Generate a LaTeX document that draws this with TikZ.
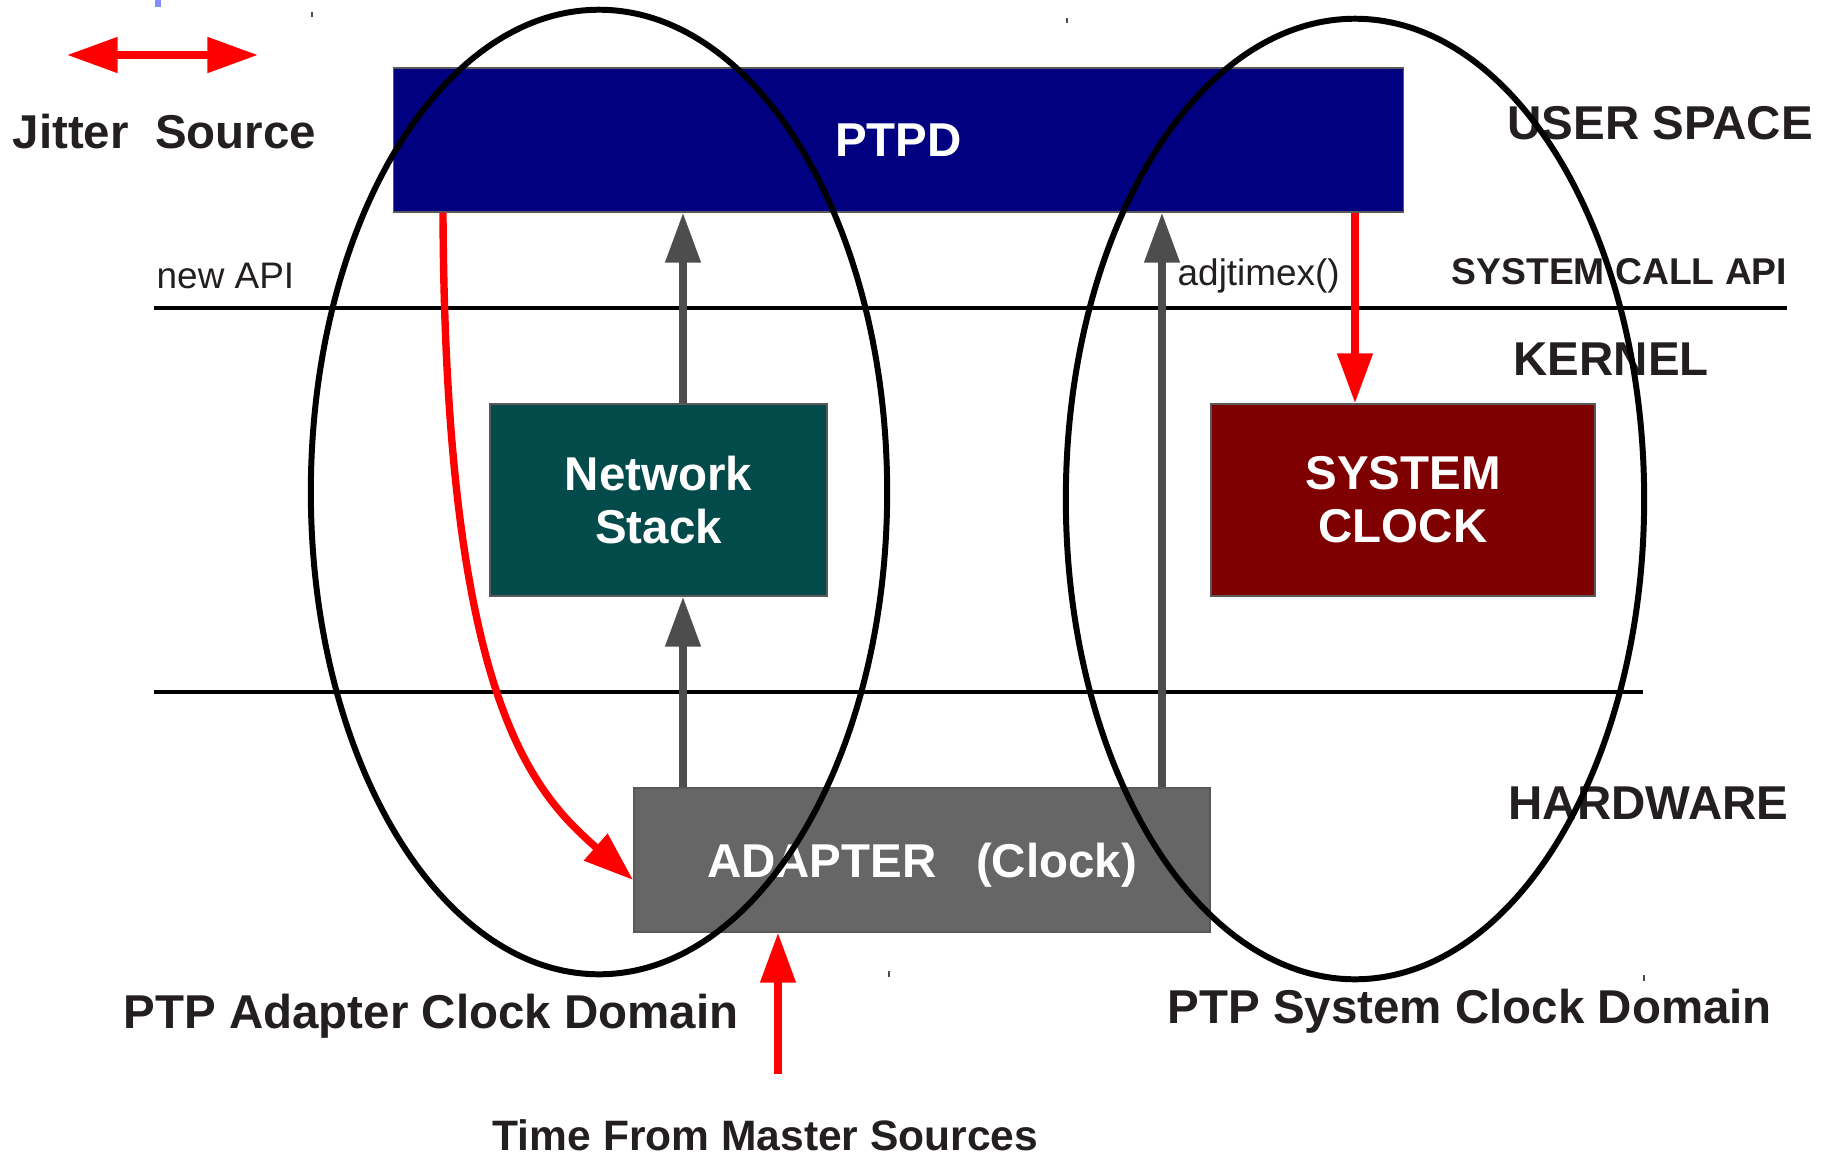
\documentclass[tikz,border=0pt]{standalone}
\usepackage{fontspec}
\setmainfont{Liberation Sans}
\usetikzlibrary{arrows.meta,calc}

\definecolor{ptpdblue}{HTML}{000080}
\definecolor{netteal}{HTML}{034B4B}
\definecolor{clockred}{HTML}{7F0000}
\definecolor{adaptergray}{HTML}{666666}
\definecolor{flowgray}{HTML}{4D4D4D}
\definecolor{ink}{HTML}{231F20}
\definecolor{markblue}{HTML}{8090FF}

\begin{document}
\begin{tikzpicture}[x=0.01cm,y=-0.01cm,
  box/.style={draw=black!65, line width=0.4pt, inner sep=0pt, text=white,
    font=\bfseries\fontsize{13.5}{15.1}\selectfont, align=center},
  biglbl/.style={inner sep=0pt, anchor=base west, text=ink,
    font=\bfseries\fontsize{13.5}{16}\selectfont},
  smalllbl/.style={inner sep=0pt, anchor=base west, text=ink,
    font=\fontsize{10.5}{12}\selectfont},
  flow/.style={draw=flowgray, line width=2.1pt,
    -{Triangle[length=14.2pt,width=9.7pt]}},
  jitterflow/.style={draw=red, line width=2.1pt,
    -{Triangle[length=14.2pt,width=9.7pt]}},
  jitterboth/.style={draw=red, line width=2.2pt,
    {Triangle[length=14.4pt,width=9.7pt]}-{Triangle[length=14.4pt,width=9.7pt]}},
  domainring/.style={draw=black, line width=1.7pt},
  layerline/.style={draw=black, line width=1.15pt},
  cornermark/.style={draw=black!70, line width=0.4pt},
]
\useasboundingbox (0,0) rectangle (1835,1160);

% small corner marks
\draw[draw=markblue, line width=1.5pt] (158,0) -- (158,7);
\draw[cornermark] (312,12) -- (312,17);
\draw[cornermark] (1067,18) -- (1067,23);
\draw[cornermark] (889,971) -- (889,977);
\draw[cornermark] (1644,975) -- (1644,981);

% layer separators
\coordinate (apiL) at (154,308);   \coordinate (apiR) at (1787,308);
\coordinate (hwL)  at (154,692);   \coordinate (hwR)  at (1643,692);
\draw[layerline] (apiL) -- (apiR);
\draw[layerline] (hwL) -- (hwR);

% blocks
\node[box, fill=ptpdblue, minimum width=10.09cm, minimum height=1.44cm]
  (ptpd) at (898.5,140) {PTPD};
\node[box, fill=netteal, minimum width=3.37cm, minimum height=1.92cm]
  (net) at (658.5,500) {Network\\Stack};
\node[box, fill=clockred, minimum width=3.84cm, minimum height=1.92cm]
  (sysclk) at (1403,500) {SYSTEM\\CLOCK};
\node[box, fill=adaptergray, minimum width=5.76cm, minimum height=1.44cm, text depth=0pt]
  (adapter) at (922,860) {ADAPTER\hspace{0.834em}(Clock)};

% arrow columns
\coordinate (colNet) at (683,0);
\coordinate (colAdj) at (1162,0);
\coordinate (colSys) at (1355,0);
\coordinate (colCurve) at (443,0);
\coordinate (master) at (778,1074);

% timestamp paths
\draw[flow] (adapter.north -| colNet) -- (net.south -| colNet);
\draw[flow] (net.north -| colNet) -- (ptpd.south -| colNet);
\draw[flow] (adapter.north -| colAdj) -- (ptpd.south -| colAdj);

% jitter sources
\draw[jitterflow] (ptpd.south -| colCurve)
  .. controls +(2,488) and +(-100,-88) .. ($(adapter.west)+(0,20)$);
\draw[jitterflow] (ptpd.south -| colSys) -- (sysclk.north -| colSys);
\draw[jitterflow] (master) -- (adapter.south -| master);

% legend
\coordinate (legL) at (67,55);
\coordinate (legR) at (258,55);
\draw[jitterboth] (legL) -- (legR);
\node[biglbl] (legText) at (12,148) {Jitter\hspace{0.556em}Source};

% layer labels
\node[biglbl] (userLbl) at (1507,139) {USER SPACE};
\node[inner sep=0pt, anchor=base west, text=ink, font=\bfseries\fontsize{10.6}{12}\selectfont]
  (sysCallLbl) at (1451,284) {SYSTEM CALL API};
\node[biglbl] (kernelLbl) at (1513,375) {KERNEL};
\node[biglbl] (hwLbl) at (1508,819) {HARDWARE};
\node[smalllbl] (newApiLbl) at (156,288) {new API};
\node[smalllbl] (adjLbl) at (1177,285) {adjtimex()};

% domain captions
\node[biglbl] (adDomLbl) at (123,1028) {PTP Adapter Clock Domain};
\node[biglbl] (sysDomLbl) at (1167,1023) {PTP System Clock Domain};
\node[inner sep=0pt, anchor=base west, text=ink, font=\bfseries\fontsize{12.1}{14}\selectfont]
  (masterLbl) at (492,1150) {Time From Master Sources};

% clock domains
\draw[domainring] (599,492) ellipse [x radius=2.88cm, y radius=4.82cm];
\draw[domainring] (1355,499) ellipse [x radius=2.89cm, y radius=4.80cm];
\end{tikzpicture}
\end{document}
